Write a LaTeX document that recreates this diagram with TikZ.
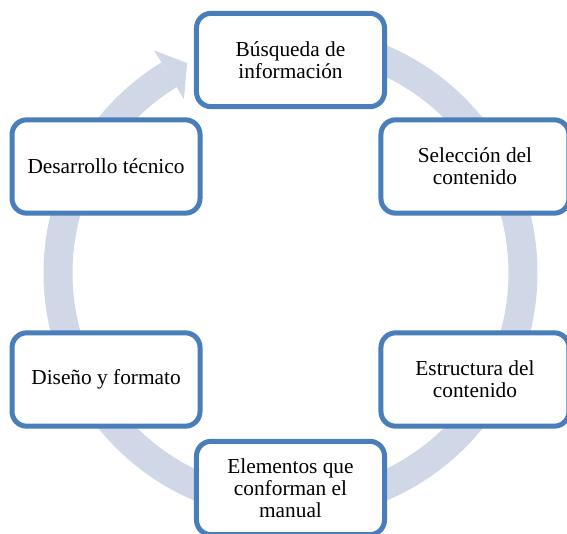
\documentclass[tikz,border=0pt]{standalone}
\usepackage{fontspec}
\setmainfont{Liberation Serif}
\usepackage{tikz}
\usetikzlibrary{positioning}
\usepackage{xcolor}
\definecolor{cycblue}{RGB}{74,126,187}
\definecolor{cycring}{RGB}{208,216,232}
\tikzstyle{stagebox} = [draw=cycblue, line width=3.75pt, fill=white, rounded corners=11pt,
  minimum width=141pt, minimum height=70pt, align=center, inner sep=2pt,
  font=\fontsize{16}{16.5}\selectfont]
\tikzstyle{ring} = [draw=cycring, line width=21.75pt]

\begin{document}
\begin{tikzpicture}[x=0.75pt, y=0.75pt]
\useasboundingbox (-290.5,-260) rectangle (276.5,273);
\clip (-290.5,-260) rectangle (276.5,273);

% Cycle ring with arrow head
\draw[ring] (85:232.5) arc[start angle=85, end angle=-238.5, radius=232.5];
\fill[cycring] (121.5:261) -- (116.2:234) -- (121.5:204) -- cycle;

% Stages
\node[stagebox] (busqueda) at (90:213) {Búsqueda de\\información};
\node[stagebox] (seleccion) at (30:213) {Selección del\\contenido};
\node[stagebox] (estructura) at (-30:213) {Estructura del\\contenido};
\node[stagebox] (elementos) at (-90:215) {Elementos que\\conforman el\\manual};
\node[stagebox] (diseno) at (210:213) {Diseño y formato};
\node[stagebox] (desarrollo) at (150:213) {Desarrollo técnico};
\end{tikzpicture}
\end{document}
